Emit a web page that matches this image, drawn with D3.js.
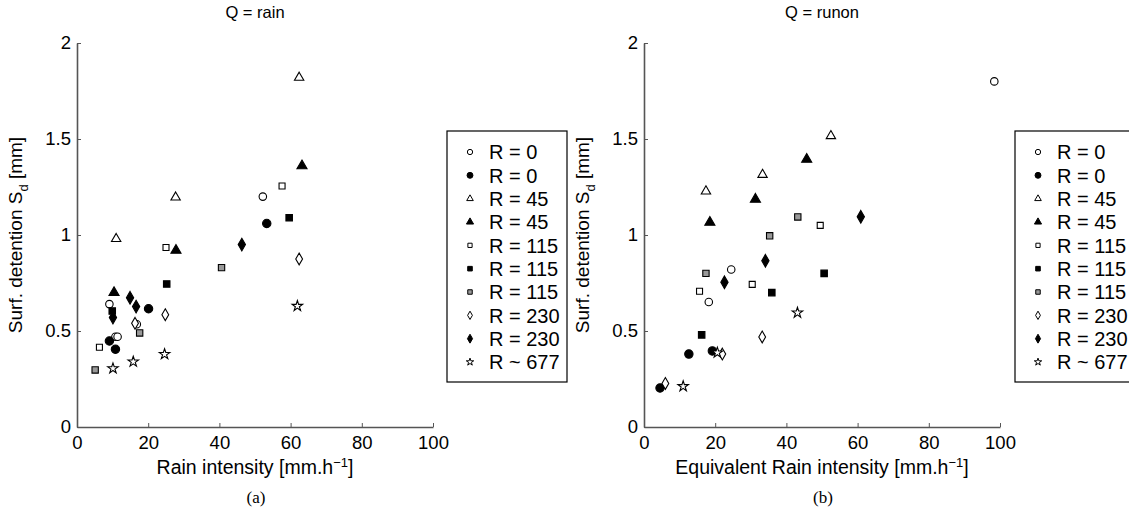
<!DOCTYPE html>
<html>
<head>
<meta charset="utf-8">
<script src="https://cdn.jsdelivr.net/npm/d3@7"></script>
<style>
  body { margin: 0; background: #fff; }
  svg text { font-family: "Liberation Sans", Arial, sans-serif; fill: #000; }
  .axis path, .axis line { stroke: #555; }
  .axis text { font-size: 18.5px; }
</style>
</head>
<body>
<svg width="1129" height="521"></svg>
<script>
// legend labels, one per series
const seriesLabels = ["R = 0", "R = 0", "R = 45", "R = 45", "R = 115", "R = 115", "R = 115", "R = 230", "R = 230", "R ~ 677"];
const xTicks = [0, 20, 40, 60, 80, 100];
const yTicks = [0, 0.5, 1, 1.5, 2];

// panel (a) : Q = rain   [rain intensity, Sd]
const rainR0open    = [[9.1, 0.64], [10.8, 0.47], [11.4, 0.47], [16.8, 0.535], [52.2, 1.2]];
const rainR0fill    = [[9.1, 0.448], [10.8, 0.405], [20.1, 0.616], [53.3, 1.06]];
const rainR45open   = [[11, 0.98], [27.7, 1.196], [62.4, 1.82]];
const rainR45fill   = [[10.4, 0.70], [27.8, 0.92], [63.2, 1.36]];
const rainR115open  = [[6.3, 0.415], [25, 0.935], [57.6, 1.255]];
const rainR115fill  = [[9.9, 0.604], [25.2, 0.745], [59.6, 1.09]];
const rainR115gray  = [[5.1, 0.297], [17.6, 0.49], [40.6, 0.83]];
const rainR230open  = [[16.3, 0.54], [24.8, 0.585], [62.4, 0.875]];
const rainR230fill  = [[10.1, 0.57], [14.9, 0.673], [16.6, 0.627], [46.3, 0.95]];
const rainR677      = [[10.1, 0.305], [15.8, 0.34], [24.6, 0.379], [61.9, 0.63]];

// panel (b) : Q = runon   [equivalent rain intensity, Sd]
const runonR0open   = [[18.2, 0.651], [24.5, 0.82], [98.4, 1.80]];
const runonR0fill   = [[4.5, 0.203], [12.6, 0.38], [19.2, 0.396]];
const runonR45open  = [[17.4, 1.228], [33.3, 1.314], [52.5, 1.516]];
const runonR45fill  = [[18.5, 1.066], [31.3, 1.186], [45.7, 1.394]];
const runonR115open = [[15.6, 0.707], [30.4, 0.743], [49.5, 1.05]];
const runonR115fill = [[16.2, 0.48], [35.9, 0.70], [50.6, 0.80]];
const runonR115gray = [[17.4, 0.80], [35.3, 0.996], [43.2, 1.094]];
const runonR230open = [[6.0, 0.227], [22.0, 0.38], [33.2, 0.469]];
const runonR230fill = [[22.6, 0.754], [34.1, 0.866], [60.9, 1.095]];
const runonR677     = [[11.0, 0.212], [20.6, 0.387], [43.1, 0.595]];

// marker style per series (same order as seriesLabels)
const markers = [
  {type: d3.symbolCircle,   size: 44, fill: "#fff"},
  {type: d3.symbolCircle,   size: 55, fill: "#000"},
  {type: d3.symbolTriangle, size: 38, fill: "#fff"},
  {type: d3.symbolTriangle, size: 44, fill: "#000"},
  {type: d3.symbolSquare,   size: 36, fill: "#fff"},
  {type: d3.symbolSquare,   size: 42, fill: "#000"},
  {type: d3.symbolSquare,   size: 40, fill: "#999"},
  {type: d3.symbolDiamond,  size: 40, fill: "#fff"},
  {type: d3.symbolDiamond,  size: 46, fill: "#000"},
  {type: d3.symbolStar,     size: 34, fill: "#fff"}
];

const panels = [
  {left: 77, title: "Q = rain", xlabel: "Rain intensity [mm.h", tag: "(a)", legendX: 447,
   series: [rainR0open, rainR0fill, rainR45open, rainR45fill, rainR115open, rainR115fill, rainR115gray, rainR230open, rainR230fill, rainR677]},
  {left: 644, title: "Q = runon", xlabel: "Equivalent Rain intensity [mm.h", tag: "(b)", legendX: 1015,
   series: [runonR0open, runonR0fill, runonR45open, runonR45fill, runonR115open, runonR115fill, runonR115gray, runonR230open, runonR230fill, runonR677]}
];

const plotW = 356, plotTop = 43, plotH = 384;
const svg = d3.select("svg");

panels.forEach(p => {
  let g = svg.append("g").attr("transform", `translate(${p.left}, ${plotTop})`);

  let x = d3.scaleLinear().domain([0, 100]).range([0, plotW]);
  let y = d3.scaleLinear().domain([0, 2]).range([plotH, 0]);

  // ticks point inwards like matlab
  g.append("g").attr("class", "axis")
    .attr("transform", `translate(0, ${plotH})`)
    .call(d3.axisBottom(x).tickValues(xTicks).tickSize(-4).tickPadding(8).tickSizeOuter(0))
    .selectAll("text").attr("dy", "0.75em");

  g.append("g").attr("class", "axis")
    .call(d3.axisLeft(y).tickValues(yTicks).tickSize(-4).tickPadding(6).tickSizeOuter(0)
      .tickFormat(d3.format("")));

  g.selectAll(".axis path").attr("stroke-width", 1.6);

  // title
  g.append("text")
    .attr("x", plotW / 2).attr("y", -25)
    .attr("text-anchor", "middle")
    .style("font-size", "16.5px")
    .text(p.title);

  // x label with superscript
  let xl = g.append("text")
    .attr("x", plotW / 2).attr("y", plotH + 47)
    .attr("text-anchor", "middle")
    .style("font-size", "19.5px");
  xl.append("tspan").text(p.xlabel);
  xl.append("tspan").attr("dy", -7).style("font-size", "13px").text("\u22121");
  xl.append("tspan").attr("dy", 7).text("]");

  // y label with subscript
  let yl = g.append("text")
    .attr("transform", `translate(-55, ${plotH / 2}) rotate(-90)`)
    .attr("text-anchor", "middle")
    .style("font-size", "19px");
  yl.append("tspan").text("Surf. detention S");
  yl.append("tspan").attr("dy", 6).style("font-size", "13px").text("d");
  yl.append("tspan").attr("dy", -6).text(" [mm]");

  // panel tag
  svg.append("text")
    .attr("x", p.left + plotW / 2 + 1).attr("y", 503)
    .attr("text-anchor", "middle")
    .style("font-family", "'Liberation Serif', 'Times New Roman', serif")
    .style("font-size", "17px")
    .text(p.tag);

  // points
  p.series.forEach((pts, i) => {
    let m = markers[i];
    g.selectAll(null)
      .data(pts)
      .enter()
      .append("path")
      .attr("d", d3.symbol().type(m.type).size(m.size))
      .attr("transform", d => `translate(${x(d[0])}, ${y(d[1])})`)
      .attr("fill", m.fill)
      .attr("stroke", "#000")
      .attr("stroke-width", 1.1);
  });

  // legend
  let lg = svg.append("g").attr("transform", `translate(${p.legendX}, 131)`);
  lg.append("rect")
    .attr("width", 120).attr("height", 251)
    .attr("fill", "#fff").attr("stroke", "#000").attr("stroke-width", 1.2);

  let ly = d3.scaleLinear().domain([0, seriesLabels.length - 1]).range([21, 231]);
  seriesLabels.forEach((lab, i) => {
    let m = markers[i];
    lg.append("path")
      .attr("d", d3.symbol().type(m.type).size(m.size * 0.5))
      .attr("transform", `translate(23, ${ly(i)})`)
      .attr("fill", m.fill)
      .attr("stroke", "#000")
      .attr("stroke-width", 1);
    lg.append("text")
      .attr("x", 42).attr("y", ly(i))
      .attr("dy", "0.36em")
      .style("font-size", "20px")
      .text(lab);
  });
});
</script>
</body>
</html>
